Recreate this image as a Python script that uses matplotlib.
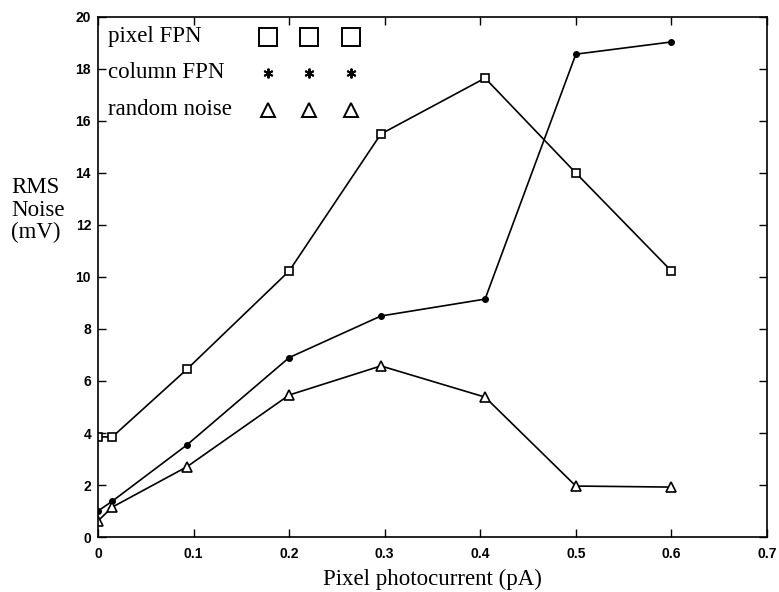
import matplotlib
matplotlib.use("Agg")
import matplotlib.pyplot as plt
from matplotlib.lines import Line2D

# Photocurrent sample points (pA)
photocurrent = [0.0, 0.015, 0.093, 0.2, 0.296, 0.405, 0.5, 0.6]

# RMS noise (mV) for each noise component
pixel_fpn = [3.85, 3.85, 6.45, 10.23, 15.5, 17.65, 14.0, 10.23]
column_fpn = [1.0, 1.38, 3.54, 6.9, 8.5, 9.15, 18.57, 19.04]
random_noise = [0.62, 1.15, 2.7, 5.46, 6.58, 5.38, 1.96, 1.92]

x_ticks = [0, 0.1, 0.2, 0.3, 0.4, 0.5, 0.6, 0.7]
x_tick_labels = ["0", "0.1", "0.2", "0.3", "0.4", "0.5", "0.6", "0.7"]
y_ticks = [0, 2, 4, 6, 8, 10, 12, 14, 16, 18, 20]

legend_labels = ["pixel FPN", "column FPN", "random noise"]

serif = "Liberation Serif"
sans = "Liberation Sans"

fig = plt.figure(figsize=(7.79, 5.92), dpi=100)
ax = fig.add_axes([0.1258, 0.0929, 0.9846 - 0.1258, 0.9713 - 0.0929])

line_kw = dict(color="black", linewidth=1.2)
ax.plot(photocurrent, pixel_fpn, marker="s", markersize=6, markerfacecolor="white",
        markeredgecolor="black", markeredgewidth=1.2, **line_kw)
ax.plot(photocurrent, column_fpn, marker="o", markersize=4, markerfacecolor="black",
        markeredgecolor="black", **line_kw)
ax.plot(photocurrent, random_noise, marker="^", markersize=7, markerfacecolor="white",
        markeredgecolor="black", markeredgewidth=1.2, **line_kw)

ax.set_xlim(0, 0.7)
ax.set_ylim(0, 20)
ax.set_xticks(x_ticks)
ax.set_xticklabels(x_tick_labels)
ax.set_yticks(y_ticks)
for lbl in ax.get_xticklabels() + ax.get_yticklabels():
    lbl.set_fontfamily(sans)
    lbl.set_fontweight("bold")
    lbl.set_fontsize(10)

ax.tick_params(direction="in", length=6, width=1.0, top=True, right=True)
ax.tick_params(axis="y", pad=5)
ax.tick_params(axis="x", pad=7)
for s in ax.spines.values():
    s.set_linewidth(1.2)

ax.set_xlabel("Pixel photocurrent (pA)", fontfamily=serif, fontsize=16.5, labelpad=6)
fig.text(0.014, 0.645, "RMS\nNoise\n(mV)", fontfamily=serif, fontsize=16.5,
         ha="left", va="center", linespacing=1.1)

# Legend: label column on the left, three sample markers per entry on the right
legend_markers = [
    dict(marker="s", markersize=13, markerfacecolor="white", markeredgewidth=1.4),
    dict(marker=(6, 2, 0), markersize=7, markeredgewidth=1.4),
    dict(marker="^", markersize=10, markerfacecolor="white", markeredgewidth=1.4),
]
row_y = [0.962, 0.893, 0.822]
for label, mk, yy in zip(legend_labels, legend_markers, row_y):
    ax.text(0.015, yy, label, transform=ax.transAxes, fontfamily=serif,
            fontsize=16.5, ha="left", va="center")
    for xx in [0.254, 0.316, 0.378]:
        ax.add_line(Line2D([xx], [yy], transform=ax.transAxes, color="black",
                           markeredgecolor="black", linestyle="none", **mk))

fig.savefig("out.png", dpi=100)
